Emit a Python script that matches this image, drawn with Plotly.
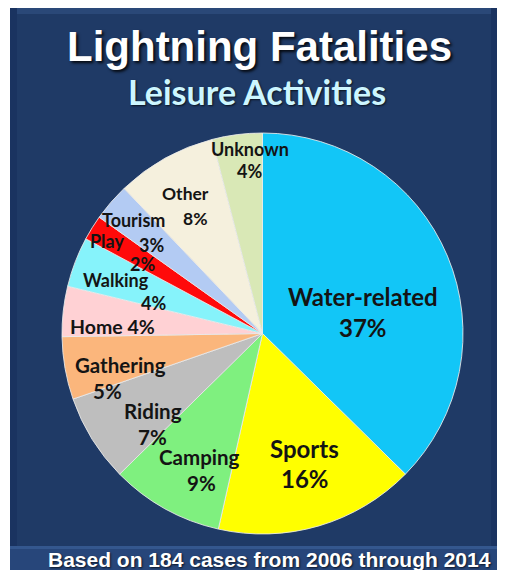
import math
import plotly.graph_objects as go

# ---------------- data ----------------
labels = ["Water-related", "Sports", "Camping", "Riding", "Gathering", "Home",
          "Walking", "Play", "Tourism", "Other", "Unknown"]
percents = [37, 16, 9, 7, 5, 4, 4, 2, 3, 8, 4]
colors = ["#12C6F7", "#FFFF00", "#7FF07F", "#BEBEBE", "#FBB67C", "#FFD1D4",
          "#86F3FB", "#FF0A0A", "#B3CBF3", "#F5F0DD", "#D9E8B6"]
title_text = "Lightning Fatalities"
subtitle_text = "Leisure Activities"
footer_text = "Based on 184 cases from 2006 through 2014"

# ---------------- layout constants ----------------
OFF = 8                      # page body margin offset
W, H = 505 - OFF, 570 - OFF  # figure size so it fits the window exactly
CX, CY, R = 262.5, 333.5, 200.5   # pie centre / radius in window px

# label placement: angle offset (deg), radius fraction, name dx, pct dx, line height, font size, one line
label_style = {
    "Water-related": (10.8, 0.51, 0, 0, 31, 24, False),
    "Sports":        (-1.6, 0.68, 0, 0, 30, 24, False),
    "Camping":       (-4.6, 0.75, -1, 1, 26, 20.5, False),
    "Riding":        (-7.8, 0.71, 0, 0, 26, 20.5, False),
    "Gathering":     (-6.9, 0.77, 6, -7, 26, 20.5, False),
    "Home":          (-3.7, 0.75, 0, 0, 0, 19.5, True),
    "Walking":       (-2.7, 0.67, -19, 19, 23, 18, False),
    "Play":          (-1.4, 0.80, -17, 18, 23, 18, False),
    "Tourism":       (-0.9, 0.78, -9, 9, 25, 18, False),
    "Other":         (-0.5, 0.73, -5, 5, 25, 17.5, False),
    "Unknown":       (3.0, 0.87, 0, 0, 22, 18, False),
}

def px(x):
    return (x - OFF) / W

def py(y):
    return 1 - (y - OFF) / H

fig = go.Figure()
fig.add_trace(go.Pie(
    labels=labels,
    values=percents,
    sort=False,
    direction="clockwise",
    rotation=0,
    marker=dict(colors=colors, line=dict(color="rgba(235,235,235,0.85)", width=1)),
    textinfo="none",
    hoverinfo="skip",
    showlegend=False,
    domain=dict(x=[px(CX - R), px(CX + R)], y=[py(CY + R), py(CY - R)]),
))

# ---------------- background shapes ----------------
def rect(x0, y0, x1, y1, color):
    return dict(type="rect", xref="paper", yref="paper", x0=px(x0), x1=px(x1),
                y0=py(y1), y1=py(y0), fillcolor=color, line=dict(width=0), layer="below")

shapes = [
    rect(10, 8, 498, 570, "#1F3A66"),     # navy panel
    rect(10, 8, 498, 14, "#2A4878"),      # top bevel
    rect(10, 8, 17, 570, "#1A3360"),      # left bevel
    rect(491, 8, 498, 570, "#1A3360"),    # right bevel
    rect(10, 547, 498, 570, "#27467A"),   # footer band
    rect(10, 546, 498, 549, "#34578E"),   # footer highlight
]

# ---------------- annotations ----------------
annotations = [
    dict(text="<b>" + title_text + "</b>", x=px(259), y=py(46), xref="paper", yref="paper",
         showarrow=False, xanchor="center", yanchor="middle",
         font=dict(family="Liberation Sans", size=42, color="white",
                   shadow="2px 2px 3px rgba(0,0,0,0.85)")),
    dict(text="<b>" + subtitle_text + "</b>", x=px(257), y=py(91), xref="paper", yref="paper",
         showarrow=False, xanchor="center", yanchor="middle",
         font=dict(family="Lato", size=34, color="#CDF6FF",
                   shadow="1px 1px 2px rgba(0,0,0,0.7)")),
    dict(text="<b>" + footer_text + "</b>", x=px(269), y=py(559), xref="paper", yref="paper",
         showarrow=False, xanchor="center", yanchor="middle",
         font=dict(family="Liberation Sans", size=21, color="white",
                   shadow="1px 1px 2px rgba(0,0,0,0.7)")),
]

total = sum(percents)
cum = 0
for lab, val in zip(labels, percents):
    mid = (cum + val / 2) / total * 360
    cum += val
    dang, rf, ndx, pdx, lh, fs, one = label_style[lab]
    a = math.radians(mid + dang)
    ax = CX + R * rf * math.sin(a)
    ay = CY - R * rf * math.cos(a)
    pct = f"{val}%"
    font = dict(family="Lato", size=fs, color="#141414")
    if one:
        annotations.append(dict(text=f"<b>{lab} {pct}</b>", x=px(ax), y=py(ay), xref="paper",
                                yref="paper", showarrow=False, xanchor="center",
                                yanchor="middle", font=font))
    else:
        annotations.append(dict(text=f"<b>{lab}</b>", x=px(ax + ndx), y=py(ay - lh / 2),
                                xref="paper", yref="paper", showarrow=False,
                                xanchor="center", yanchor="middle", font=font))
        annotations.append(dict(text=f"<b>{pct}</b>", x=px(ax + pdx), y=py(ay + lh / 2),
                                xref="paper", yref="paper", showarrow=False,
                                xanchor="center", yanchor="middle", font=font))

fig.update_layout(
    width=W, height=H,
    margin=dict(l=0, r=0, t=0, b=0),
    paper_bgcolor="white",
    plot_bgcolor="white",
    shapes=shapes,
    annotations=annotations,
)

fig.write_html("out.html")
